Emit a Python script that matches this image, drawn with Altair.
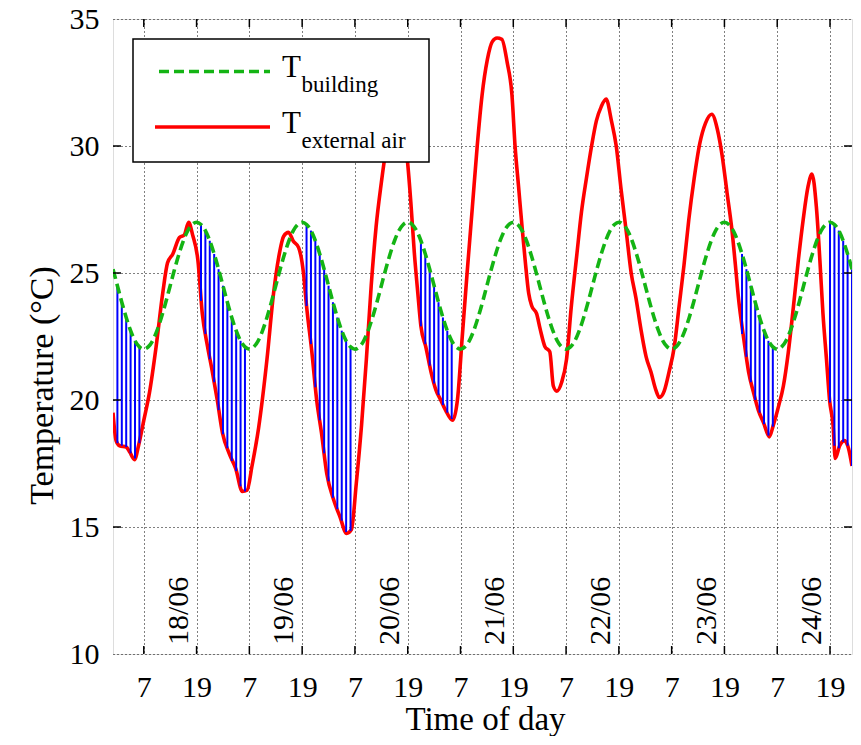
import altair as alt
import pandas as pd

# ---------------- data ----------------
# external air temperature (hour since start, degC)
ext_hours = [0, 0.7, 1.5, 3, 3.8, 4.9, 5.8, 7, 8.3, 9.8, 11.3, 12.4, 13.6, 15.1, 16.2, 17.2, 18.1,
             19.3, 20.3, 21.5, 22.6, 23.7, 24.9, 26.4, 27.9, 29.4, 30.5, 31.6, 33.1, 35, 36.5,
             37.7, 38.8, 39.9, 41, 42.2, 43.3, 44, 45.2, 46.3, 47.4, 48.6, 50.1, 51.6, 53.1,
             54.2, 55.3, 56.5, 57.6, 58.7, 59.8, 61, 62.1, 63.5, 65, 66.2, 67, 67.7, 68.5, 69.3,
             70, 71.1, 72.3, 73.4, 74.5, 75.6, 77.2, 78.3, 79.4, 80.5, 81.7, 82.8, 83.9, 85.1,
             86.2, 87.3, 88.4, 89.6, 90.7, 91.4, 92.2, 93, 93.7, 94.5, 95.2, 96.3, 97.1, 98.2,
             99.3, 100.1, 100.9, 102, 103.1, 104.2, 105.4, 106.5, 107.6, 108.8, 109.9, 111,
             112.1, 113.3, 114.4, 115.5, 116.7, 117.8, 118.9, 120, 121.2, 122.3, 123.4, 124.2,
             125.3, 126.4, 127.6, 128.7, 129.8, 130.9, 132.1, 133.4, 134.7, 136.1, 137.4,
             138.5, 139.6, 140.7, 141.5, 142.2, 143.4, 144.5, 145.6, 146.7, 147.9, 149.2,
             150.1, 151.3, 152.4, 153.5, 154.7, 155.8, 156.9, 158, 158.9, 159.9, 160.7, 161.4,
             162.2, 162.9, 163.7, 164.2, 165.2, 166.3, 167.2, 168]
ext_temp = [19.5, 18.4, 18.2, 18.15, 17.95, 17.65, 18.2, 19.2, 20.3, 22.1, 24.2, 25.4, 25.75,
            26.4, 26.5, 27.0, 26.5, 25.5, 23.4, 22.1, 21.1, 20.0, 18.7, 17.9, 17.3, 16.4, 16.45,
            17.4, 18.9, 21.6, 24.2, 25.65, 26.45, 26.6, 26.25, 26.0, 25.0, 23.7, 21.9, 20.0,
            18.7, 17.1, 16.1, 15.4, 14.75, 14.9, 16.7, 19.0, 21.6, 24.5, 26.8, 28.55, 29.9,
            31.0, 31.3, 30.5, 29.3, 27.8, 25.8, 24.2, 22.9, 22.1, 21.1, 20.4, 20.0, 19.6, 19.2,
            20.0, 22.5, 25.0, 27.6, 30.0, 32.0, 33.4, 34.1, 34.25, 34.2, 33.3, 32.0, 30.0, 28.4,
            26.8, 25.5, 24.2, 23.7, 23.4, 22.8, 22.1, 21.9, 20.55, 20.35, 20.7, 21.6, 23.7,
            25.65, 27.4, 28.7, 30.0, 31.0, 31.55, 31.85, 31.0, 30.0, 28.3, 26.6, 25.0, 24.0,
            22.8, 21.7, 21.1, 20.4, 20.1, 20.35, 21.1, 22.1, 23.7, 25.3, 27.1, 28.7, 30.1, 30.9,
            31.25, 30.65, 29.6, 28.15, 26.7, 25.3, 24.0, 22.4, 21.1, 20.3, 19.6, 19.1, 18.55,
            19.0, 19.75, 20.55, 21.85, 23.7, 25.5, 27.1, 28.4, 28.9, 27.6, 25.5, 23.4, 21.6,
            20.0, 19.0, 17.7, 18.2, 18.4, 18.1, 17.4]

# building temperature: daily profile read hour by hour (0h .. 23h), same every day
building_day = [25.15, 24.5, 23.85, 23.25, 22.73, 22.33, 22.09, 22.0, 22.09, 22.33, 22.73,
                23.25, 23.85, 24.5, 25.15, 25.75, 26.27, 26.67, 26.91, 27.0, 26.91, 26.67,
                26.27, 25.75]
n_days = 7

# hours with night ventilation (blue hatching) and external temperature there
hatch_hours = [1, 2, 3, 4, 5, 6,
               20, 21, 22, 23, 24, 25, 26, 27, 28, 29, 30,
               44, 45, 46, 47, 48, 49, 50, 51, 52, 53, 54,
               70, 71, 72, 73, 74, 75, 76, 77,
               143, 144, 145, 146, 147, 148, 149, 150,
               163, 164, 165, 166, 167, 168]
hatch_ext = [18.3, 18.2, 18.15, 17.9, 17.7, 18.3,
             23.9, 22.6, 21.6, 20.7, 19.6, 18.65, 18.1, 17.6, 17.2, 16.6, 16.4,
             23.7, 22.2, 20.5, 19.2, 17.9, 16.8, 16.15, 15.7, 15.25, 14.8, 14.85,
             22.9, 22.2, 21.35, 20.65, 20.2, 19.8, 19.5, 19.25,
             22.6, 21.7, 20.7, 20.0, 19.5, 19.05, 18.6, 18.95,
             19.9, 18.2, 18.1, 18.35, 18.2, 17.4]

x_ticks = [7, 19, 31, 43, 55, 67, 79, 91, 103, 115, 127, 139, 151, 163]
y_ticks = [10, 15, 20, 25, 30, 35]
date_labels = ["18/06", "19/06", "20/06", "21/06", "22/06", "23/06", "24/06"]
date_hours = [17, 41, 65, 89, 113, 137, 161]

# ---------------- tables ----------------
ext_df = pd.DataFrame({"t": ext_hours, "T": ext_temp})
b_hours = list(range(n_days * 24 + 1))
b_vals = (building_day * n_days) + [building_day[0]]
bld_df = pd.DataFrame({"t": b_hours, "T": b_vals})
hatch_df = pd.DataFrame({"t": hatch_hours, "lo": hatch_ext,
                         "hi": [building_day[h % 24] for h in hatch_hours]})
date_df = pd.DataFrame({"t": date_hours, "lab": date_labels, "y": [10.35] * len(date_hours)})
xt_df = pd.DataFrame({"t": x_ticks})
yt_df = pd.DataFrame({"v": y_ticks[1:-1]})

W, H = 739, 635
FONT = "Liberation Serif"
xs = alt.Scale(domain=[0, 168], nice=False, zero=False)
ys = alt.Scale(domain=[10, 35], nice=False, zero=False)

x_axis = alt.Axis(values=x_ticks, labelExpr="'' + (datum.value % 24)", grid=True,
                  gridDash=[1, 3], gridColor="#000000", gridWidth=1, ticks=False, domain=False,
                  labelFont=FONT, labelFontSize=30, labelColor="black", labelPadding=18,
                  labelFlush=False, title="Time of day", titleFont=FONT, titleFontSize=33,
                  titleFontWeight="normal", titleColor="black", titleBaseline="alphabetic",
                  titleAlign="center", titleX=372, titleY=75)
y_axis = alt.Axis(values=y_ticks, grid=True, gridDash=[1, 3], gridColor="#000000", gridWidth=1,
                  ticks=False, domain=False, labelFont=FONT, labelFontSize=30,
                  labelColor="black", labelPadding=14, labelFlush=False,
                  title="Temperature (°C)", titleFont=FONT, titleFontSize=34,
                  titleFontWeight="normal", titleColor="black", titleBaseline="alphabetic",
                  titleAlign="center", titleX=-61, titleY=366)

base_grid = alt.Chart(ext_df).mark_line(opacity=0).encode(
    x=alt.X("t:Q", scale=xs, axis=x_axis),
    y=alt.Y("T:Q", scale=ys, axis=y_axis),
)

red = alt.Chart(ext_df).mark_line(color="#ff0000", strokeWidth=3.6, interpolate="monotone",
                                  clip=True).encode(
    x=alt.X("t:Q", scale=xs), y=alt.Y("T:Q", scale=ys))

hatch = alt.Chart(hatch_df).mark_rule(color="#0000ff", strokeWidth=2, clip=True).encode(
    x=alt.X("t:Q", scale=xs), y=alt.Y("lo:Q", scale=ys), y2="hi:Q")

green = alt.Chart(bld_df).mark_line(color="#14b414", strokeWidth=3.6, strokeDash=[10, 5],
                                    interpolate="monotone", clip=True).encode(
    x=alt.X("t:Q", scale=xs), y=alt.Y("T:Q", scale=ys))

dates = alt.Chart(date_df).mark_text(font=FONT, fontSize=30, angle=270, align="left",
                                     baseline="alphabetic", color="black").encode(
    x=alt.X("t:Q", scale=xs), y=alt.Y("y:Q", scale=ys), text="lab:N")

# inward tick marks on all four sides
tick_len = 8
xt_bottom = alt.Chart(xt_df).mark_rule(color="black", strokeWidth=1.5).encode(
    x=alt.X("t:Q", scale=xs), y=alt.value(H), y2=alt.value(H - tick_len))
xt_top = alt.Chart(xt_df).mark_rule(color="black", strokeWidth=1.5).encode(
    x=alt.X("t:Q", scale=xs), y=alt.value(0), y2=alt.value(tick_len))
yt_left = alt.Chart(yt_df).mark_rule(color="black", strokeWidth=1.5).encode(
    y=alt.Y("v:Q", scale=ys), x=alt.value(0), x2=alt.value(tick_len))
yt_right = alt.Chart(yt_df).mark_rule(color="black", strokeWidth=1.5).encode(
    y=alt.Y("v:Q", scale=ys), x=alt.value(W), x2=alt.value(W - tick_len))

# legend
leg_box = alt.Chart(pd.DataFrame({"a": [0]})).mark_rect(
    fill="white", stroke="black", strokeWidth=1.5).encode(
    x=alt.value(20), x2=alt.value(316), y=alt.value(20), y2=alt.value(143))
leg_green = alt.Chart(pd.DataFrame({"a": [0]})).mark_rule(
    color="#14b414", strokeWidth=3.6, strokeDash=[10, 5]).encode(
    x=alt.value(46), x2=alt.value(157), y=alt.value(52.5))
leg_red = alt.Chart(pd.DataFrame({"a": [0]})).mark_rule(
    color="#ff0000", strokeWidth=3.6).encode(
    x=alt.value(42), x2=alt.value(157), y=alt.value(108))


def txt(s, x, y, size):
    return alt.Chart(pd.DataFrame({"s": [s]})).mark_text(
        font=FONT, fontSize=size, align="left", baseline="alphabetic", color="black").encode(
        x=alt.value(x), y=alt.value(y), text="s:N")


legend = [leg_box, leg_green, leg_red,
          txt("T", 169, 57.7, 31), txt("building", 188.5, 72.7, 23),
          txt("T", 169, 114.3, 31), txt("external air", 188.5, 129.3, 23)]

chart = alt.layer(base_grid, red, hatch, green, dates, xt_bottom, xt_top, yt_left, yt_right,
                  *legend).properties(
    width=W, height=H,
    autosize=alt.AutoSizeParams(type="none"),
    padding={"left": 105, "top": 11, "right": 1, "bottom": 82},
).configure_view(stroke="black", strokeWidth=2).configure(background="white")

chart.save("out.html", embed_options={"renderer": "svg", "actions": False})
